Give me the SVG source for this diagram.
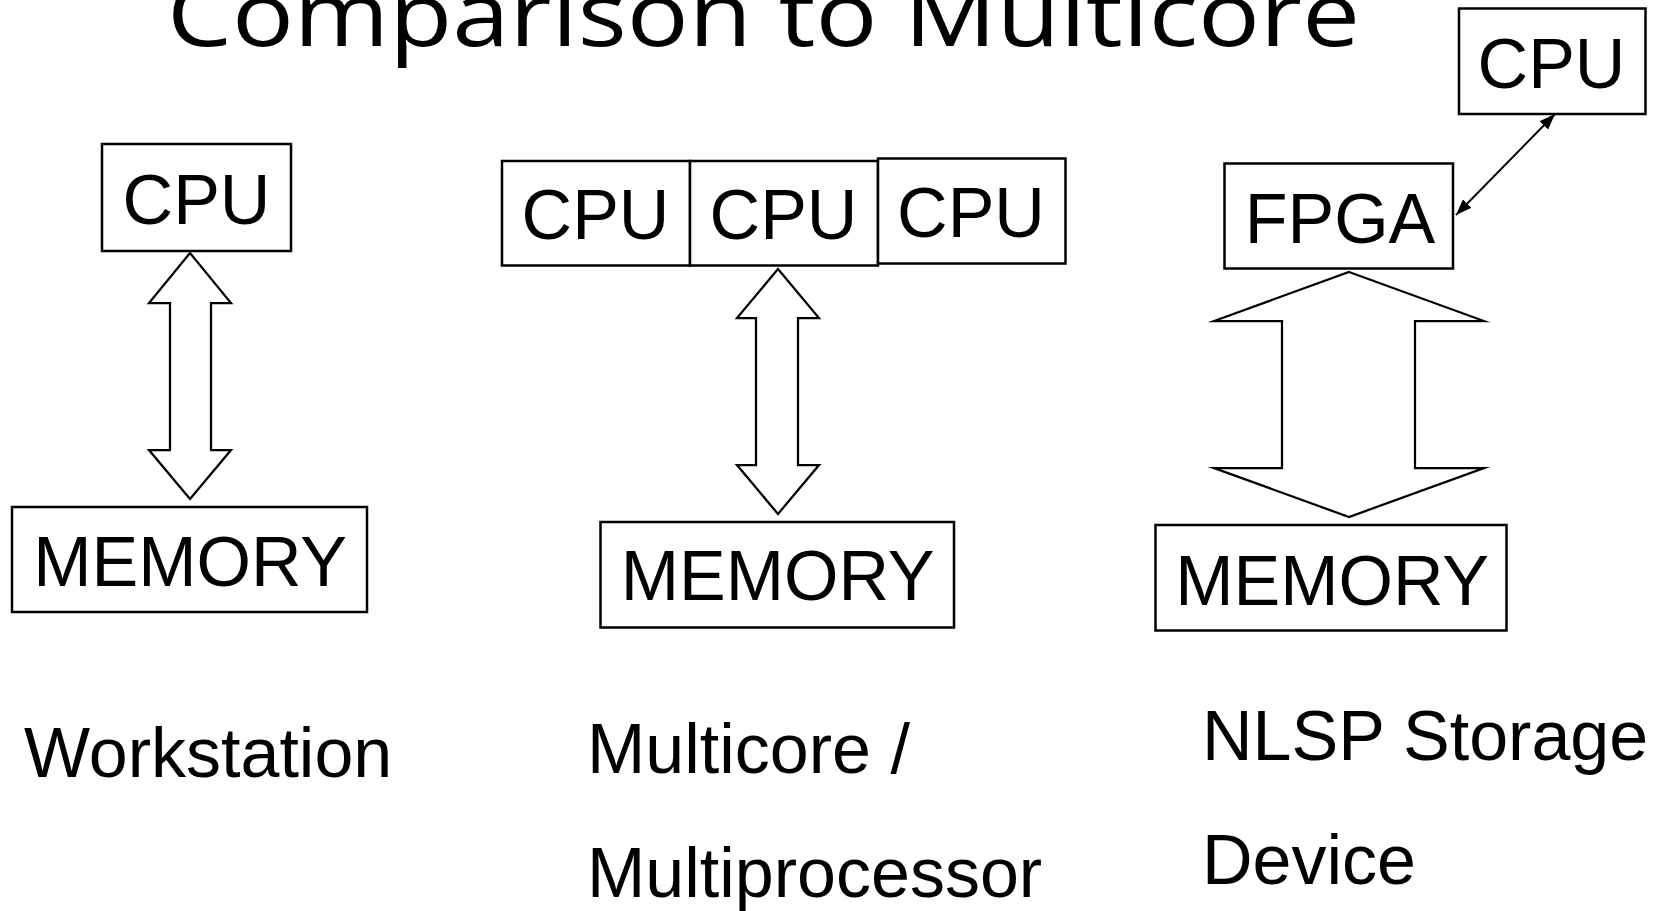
<svg xmlns="http://www.w3.org/2000/svg" width="1658" height="911" viewBox="0 0 1658 911">
  <style>
    .box { fill: #ffffff; stroke: #000000; stroke-width: 2.5; }
    .lbl { font-family: "Liberation Sans", Arial, sans-serif; font-size: 70px; fill: #000000; text-anchor: middle; }
    .cap { font-family: "Liberation Sans", Arial, sans-serif; font-size: 70px; fill: #000000; }
    .title { font-family: "Open Sans", "Noto Sans", sans-serif; font-size: 90px; fill: #000000; }
    .bus { fill: #ffffff; stroke: #000000; stroke-width: 2.25; stroke-miterlimit: 10; }
    .link { stroke: #000000; stroke-width: 2; fill: none; }
  </style>
  <defs>
    <marker id="tip" viewBox="0 0 16 12" refX="16" refY="6" markerWidth="16" markerHeight="12" markerUnits="userSpaceOnUse" orient="auto-start-reverse">
      <path d="M0,0 L16,6 L0,12 z" fill="#000000"/>
    </marker>
  </defs>

  <rect width="1658" height="911" fill="#ffffff"/>

  <text class="title" x="167" y="46" textLength="1193" lengthAdjust="spacingAndGlyphs">Comparison to Multicore</text>

  <!-- Workstation column -->
  <g id="ws-cpu">
    <rect class="box" x="102" y="144" width="189" height="107"/>
    <text class="lbl" x="196.5" y="224">CPU</text>
  </g>
  <g id="ws-memory">
    <rect class="box" x="12" y="507" width="355" height="105"/>
    <text class="lbl" x="190" y="586">MEMORY</text>
  </g>

  <!-- Multicore column -->
  <g id="mc-cpu1">
    <rect class="box" x="502" y="161" width="188" height="104.5"/>
    <text class="lbl" x="595.5" y="239">CPU</text>
  </g>
  <g id="mc-cpu2">
    <rect class="box" x="690" y="161" width="188" height="104.5"/>
    <text class="lbl" x="783.5" y="239">CPU</text>
  </g>
  <g id="mc-cpu3">
    <rect class="box" x="878" y="158.5" width="187.5" height="105"/>
    <text class="lbl" x="971" y="237">CPU</text>
  </g>
  <g id="mc-memory">
    <rect class="box" x="600.5" y="522" width="353.5" height="105.5"/>
    <text class="lbl" x="777.5" y="600">MEMORY</text>
  </g>

  <!-- Storage device column -->
  <g id="nlsp-cpu">
    <rect class="box" x="1459" y="8.5" width="186.5" height="105.5"/>
    <text class="lbl" x="1551.5" y="87.5">CPU</text>
  </g>
  <g id="nlsp-fpga">
    <rect class="box" x="1224.5" y="163.5" width="228.5" height="105"/>
    <text class="lbl" x="1340" y="242.5">FPGA</text>
  </g>
  <g id="nlsp-memory">
    <rect class="box" x="1155.5" y="525" width="351" height="105.5"/>
    <text class="lbl" x="1332" y="604.5">MEMORY</text>
  </g>

  <!-- Connectors -->
  <g id="connectors">
    <polygon class="bus" points="190,253 231,303 211,303 211,450 231,450 190,499 149,450 170,450 170,303 149,303"/>
    <polygon class="bus" points="778,269 819,318 798,318 798,465 819,465 778,514 737,465 756,465 756,318 737,318"/>
    <polygon class="bus" points="1349,272 1484,321 1415,321 1415,468 1484,468 1349,517 1214,468 1282,468 1282,321 1214,321"/>
    <line class="link" x1="1456" y1="215" x2="1555" y2="114" marker-start="url(#tip)" marker-end="url(#tip)"/>
  </g>

  <!-- Captions -->
  <text class="cap" x="24" y="777">Workstation</text>
  <text class="cap" x="587" y="773">Multicore /</text>
  <text class="cap" x="587" y="897">Multiprocessor</text>
  <text class="cap" x="1202" y="760">NLSP Storage</text>
  <text class="cap" x="1202" y="884">Device</text>
</svg>
